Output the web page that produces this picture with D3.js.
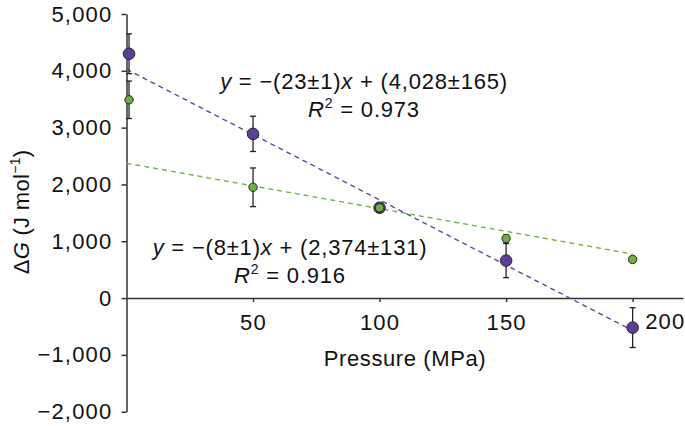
<!doctype HTML>
<html lang="en">
<head>
<meta charset="utf-8">
<title>Delta G vs pressure</title>
<script src="https://d3js.org/d3.v7.min.js"></script>
<style type="text/css">
  body { margin: 0; background: #fff; }
  text { font-family: "Liberation Sans", Arial, sans-serif; fill: #111; }
  .axis path, .axis line { fill: none; stroke: #333; stroke-width: 1.5; }
  .axis text { font-size: 22px; letter-spacing: 1.2px; font-family: "Liberation Sans", Arial, sans-serif; fill: #111; }
</style>
</head>
<body>
<script type="text/javascript">

// pressure (MPa) for each measurement
var pressure = [1, 50, 100, 150, 200];

// purple series: Delta G and error
var purpleG   = [4300, 2890, 1590, 660, -520];
var purpleErr = [350, 310, 80, 300, 350];

// green series: Delta G and error
var greenG   = [3490, 1950, 1590, 1050, 680];
var greenErr = [330, 340, 70, 60, 50];

// linear fits [slope, intercept]
var purpleFit = [-23, 4028];
var greenFit = [-8, 2374];

var xTicks = [50, 100, 150, 200];
var yTicks = [-2000, -1000, 0, 1000, 2000, 3000, 4000, 5000];

var width = 685, height = 426;

var svg = d3.select("body").append("svg")
	.attr("width", width)
	.attr("height", height);

var x = d3.scaleLinear().domain([0, 219.9]).range([126.5, 683]);
var y = d3.scaleLinear().domain([-2000, 5000]).range([411.7, 14]);

// x axis sits on y = 0
var xAxis = svg.append("g")
	.attr("class", "axis")
	.attr("transform", "translate(0," + y(0) + ")")
	.call(d3.axisBottom(x).tickValues(xTicks).tickSize(4).tickSizeOuter(0).tickPadding(12));

// the 200 label sits to the right of its tick
xAxis.selectAll(".tick text")
	.filter(function(d) { return d == 200; })
	.attr("text-anchor", "start")
	.attr("x", 12)
	.attr("y", 15);

// y axis
svg.append("g")
	.attr("class", "axis")
	.attr("transform", "translate(" + x(0) + ",0)")
	.call(d3.axisLeft(y).tickValues(yTicks).tickSize(5).tickSizeOuter(0).tickPadding(9).tickFormat(d3.format(",")));

// fitted lines
function drawFit(fit, colour) {
	var pts = [0, 200].map(function(p) { return [p, fit[0] * p + fit[1]]; });
	svg.append("path")
		.datum(pts)
		.attr("fill", "none")
		.attr("stroke", colour)
		.attr("stroke-width", 1.4)
		.attr("stroke-dasharray", "5,4")
		.attr("d", d3.line()
			.x(function(d) { return x(d[0]); })
			.y(function(d) { return y(d[1]); }));
}

drawFit(greenFit, "#6fb544");
drawFit(purpleFit, "#5d4a9f");

// error bars and points
function drawSeries(values, errors, colour, radius) {
	var data = pressure.map(function(p, i) { return {P: p, G: values[i], E: errors[i]}; });
	var g = svg.append("g");

	g.selectAll("line.bar")
		.data(data)
		.enter()
		.append("line")
		.attr("x1", function(d) { return x(d.P); })
		.attr("x2", function(d) { return x(d.P); })
		.attr("y1", function(d) { return y(d.G + d.E); })
		.attr("y2", function(d) { return y(d.G - d.E); })
		.attr("stroke", "#222")
		.attr("stroke-width", 1.3);

	[1, -1].forEach(function(s) {
		g.selectAll("line.cap" + s)
			.data(data)
			.enter()
			.append("line")
			.attr("x1", function(d) { return x(d.P) - 3; })
			.attr("x2", function(d) { return x(d.P) + 3; })
			.attr("y1", function(d) { return y(d.G + s * d.E); })
			.attr("y2", function(d) { return y(d.G + s * d.E); })
			.attr("stroke", "#222")
			.attr("stroke-width", 1.3);
	});

	g.selectAll("circle")
		.data(data)
		.enter()
		.append("circle")
		.attr("cx", function(d) { return x(d.P); })
		.attr("cy", function(d) { return y(d.G); })
		.attr("r", radius)
		.attr("fill", colour)
		.attr("stroke", "#2a2a2a")
		.attr("stroke-width", 1);
}

drawSeries(purpleG, purpleErr, "#5a3f98", 5.8);
drawSeries(greenG, greenErr, "#6cb13f", 4.2);

// equations
function equation(cx, cy, slope, intercept, r2) {
	var t = svg.append("text")
		.attr("x", cx)
		.attr("y", cy)
		.attr("text-anchor", "middle")
		.style("font-size", "22px")
		.style("letter-spacing", "0.8px");
	t.append("tspan").style("font-style", "italic").text("y");
	t.append("tspan").text(" = \u2212(" + slope + ")");
	t.append("tspan").style("font-style", "italic").text("x");
	t.append("tspan").text(" + (" + intercept + ")");

	var t2 = svg.append("text")
		.attr("x", cx)
		.attr("y", cy + 28)
		.attr("text-anchor", "middle")
		.style("font-size", "22px")
		.style("letter-spacing", "0.8px");
	t2.append("tspan").style("font-style", "italic").text("R");
	t2.append("tspan").attr("dy", -9).style("font-size", "14px").text("2");
	t2.append("tspan").attr("dy", 9).text(" = " + r2);
}

equation(364, 89, "23\u00b11", "4,028\u00b1165", "0.973");
equation(290, 255, "8\u00b11", "2,374\u00b1131", "0.916");

// axis titles
svg.append("text")
	.attr("x", 405)
	.attr("y", 366)
	.attr("text-anchor", "middle")
	.style("font-size", "22px")
	.style("letter-spacing", "0.6px")
	.text("Pressure (MPa)");

var yl = svg.append("text")
	.attr("transform", "translate(29,212) rotate(-90)")
	.attr("text-anchor", "middle")
	.style("font-size", "22px")
	.style("letter-spacing", "0.3px");
yl.append("tspan").text("\u0394");
yl.append("tspan").style("font-style", "italic").text("G");
yl.append("tspan").text(" (J mol");
yl.append("tspan").attr("dy", -9).style("font-size", "14px").text("\u22121");
yl.append("tspan").attr("dy", 9).text(")");

</script>
</body>
</html>
